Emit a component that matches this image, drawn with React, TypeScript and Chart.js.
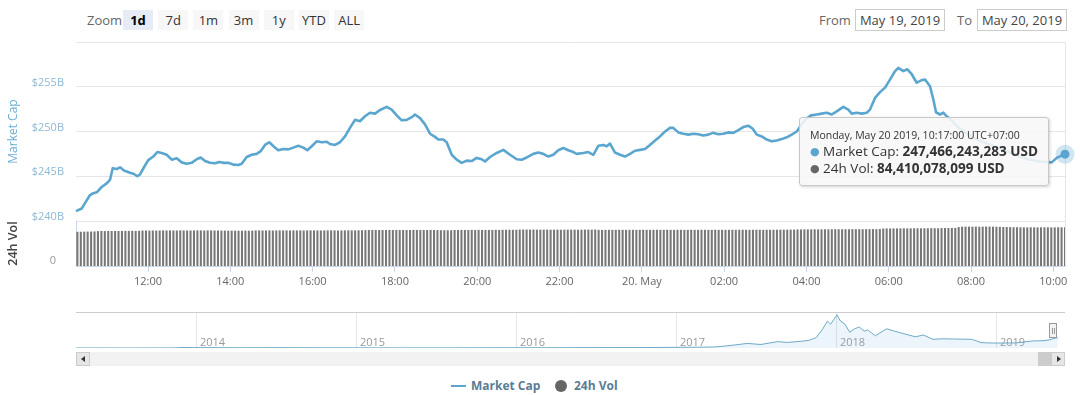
import React, { useEffect, useRef } from "react";
import { Chart, registerables } from "chart.js";
Chart.register(...registerables);

// ---------- data ----------
// Market cap (billions USD), time in hours since May 19 2019 00:00 (UTC+07)
const capHours = [
  10.25, 10.389, 10.469, 10.59, 10.67, 10.753, 10.875, 10.996, 11.076, 11.142, 11.239, 11.319, 11.416, 11.562, 11.659, 11.74, 11.805, 11.927,
  12.007, 12.128, 12.226, 12.333, 12.454, 12.576, 12.697, 12.819, 12.94, 13.062, 13.183, 13.28, 13.385, 13.506, 13.628, 13.732, 13.83, 13.951,
  14.073, 14.194, 14.277, 14.398, 14.52, 14.641, 14.738, 14.843, 14.947, 15.062, 15.166, 15.288, 15.409, 15.531, 15.652, 15.774, 15.871, 15.978,
  16.099, 16.221, 16.342, 16.422, 16.544, 16.665, 16.787, 16.908, 17.03, 17.151, 17.273, 17.395, 17.516, 17.638, 17.8, 17.922,
  18.043, 18.165, 18.286, 18.408, 18.488, 18.61, 18.731, 18.853, 18.974, 19.054, 19.176, 19.258, 19.38, 19.501, 19.623, 19.744, 19.866, 19.987,
  20.109, 20.189, 20.311, 20.474, 20.634, 20.797, 20.96, 21.081, 21.203, 21.363, 21.484, 21.606, 21.728, 21.849, 21.97,
  22.092, 22.214, 22.335, 22.418, 22.578, 22.7, 22.821, 22.943, 23.064, 23.147, 23.227, 23.348, 23.47, 23.591, 23.713, 23.834, 23.956,
  24.077, 24.199, 24.321, 24.442, 24.564, 24.685, 24.765, 24.887, 25.008, 25.13, 25.251, 25.373, 25.494, 25.616, 25.723, 25.859, 25.98,
  26.102, 26.223, 26.345, 26.466, 26.588, 26.695, 26.792, 26.914, 27.035, 27.157, 27.278, 27.4, 27.521, 27.643, 27.764, 27.966,
  28.111, 28.25, 28.372, 28.493, 28.615, 28.736, 28.897, 29.018, 29.101, 29.222, 29.344, 29.465, 29.545, 29.667, 29.788, 29.91,
  30.031, 30.153, 30.233, 30.354, 30.452, 30.559, 30.68, 30.802, 30.882, 31.003, 31.083, 31.149, 31.246, 31.326, 31.409, 31.538, 31.684, 31.854,
  32.024, 32.218, 32.413, 32.607, 32.802, 32.996, 33.19, 33.385, 33.531, 33.676, 33.822, 33.961, 34.082, 34.2833,
];
const capValues = [
  241.1, 241.4, 242.0, 242.9, 243.1, 243.2, 243.8, 244.2, 244.6, 245.9, 245.8, 246.0, 245.65, 245.4, 245.25, 245.0, 245.2, 246.2,
  246.8, 247.2, 247.7, 247.6, 247.4, 246.85, 247.0, 246.55, 246.4, 246.5, 246.9, 247.1, 246.7, 246.5, 246.45, 246.6, 246.5, 246.5,
  246.3, 246.25, 246.4, 247.15, 247.4, 247.5, 247.8, 248.5, 248.8, 248.3, 247.9, 248.05, 248.0, 248.2, 248.4, 248.2, 247.9, 248.35,
  248.9, 248.8, 248.85, 248.6, 248.5, 248.8, 249.45, 250.4, 251.3, 251.15, 251.7, 252.1, 252.0, 252.4, 252.75, 252.45,
  251.8, 251.25, 251.3, 251.6, 251.9, 251.5, 250.8, 249.75, 249.4, 249.1, 249.1, 248.8, 247.4, 246.85, 246.5, 246.75, 246.7, 247.05,
  246.9, 246.65, 247.15, 247.6, 247.95, 247.4, 246.9, 246.85, 247.1, 247.5, 247.65, 247.5, 247.2, 247.4, 247.9,
  248.15, 247.9, 247.7, 247.5, 247.6, 247.7, 247.4, 248.4, 248.5, 248.35, 248.65, 247.65, 247.4, 247.2, 247.5, 247.85, 247.95,
  248.05, 248.5, 249.0, 249.45, 250.0, 250.4, 250.4, 249.9, 249.75, 249.65, 249.75, 249.7, 249.55, 249.65, 249.85, 249.7, 249.75,
  249.9, 249.85, 250.15, 250.5, 250.65, 250.3, 249.65, 249.45, 249.1, 248.9, 249.0, 249.15, 249.35, 249.65, 250.0, 251.3,
  251.8, 251.9, 252.0, 252.1, 251.9, 252.25, 252.75, 252.45, 252.0, 252.1, 252.0, 252.1, 252.45, 253.75, 254.4, 254.9,
  255.8, 256.75, 257.1, 256.75, 256.95, 256.4, 255.45, 255.75, 255.8, 255.05, 253.6, 252.15, 251.9, 252.1, 251.7, 251.2, 250.5, 249.9,
  249.4, 249.0, 248.6, 248.3, 247.9, 247.6, 247.2, 246.9, 246.75, 246.65, 246.6, 246.55, 247.05, 247.466243283,
];

// 24h volume (billions USD), one bar every 5 minutes from 10:17
const volStartHour = 10 + 17 / 60;
const volStepHours = 5 / 60;
const volValues = [
  74.5, 74.6, 74.8, 74.9, 75.0, 75.3, 76.0, 76.2, 76.1, 76.3, 76.2, 76.4,
  76.3, 76.4, 76.5, 76.4, 76.6, 76.5, 76.7, 77.2, 77.3, 77.2, 77.4, 77.3,
  77.3, 77.5, 77.4, 77.6, 77.5, 77.4, 77.6, 77.5, 77.3, 77.4, 77.5, 77.6,
  77.5, 77.4, 77.6, 77.5, 77.3, 77.4, 77.2, 77.0, 76.9, 77.0, 76.8, 76.9,
  76.9, 77.0, 76.8, 77.1, 77.5, 77.6, 77.4, 77.5, 77.6, 77.4, 77.5, 77.6,
  77.5, 77.6, 77.4, 77.7, 77.5, 77.6, 77.4, 77.5, 77.7, 77.6, 77.5, 77.4,
  77.6, 77.5, 77.7, 77.6, 77.4, 77.5, 77.6, 77.8, 77.7, 77.6, 77.8, 77.9,
  78.2, 78.4, 78.3, 78.5, 78.4, 78.3, 78.5, 78.6, 78.4, 78.5, 78.3, 78.4,
  78.5, 78.4, 78.6, 78.5, 78.3, 78.4, 78.5, 78.6, 78.4, 78.2, 78.0, 77.9,
  77.8, 77.9, 78.4, 78.5, 78.6, 78.5, 78.4, 78.6, 78.5, 78.7, 78.6, 78.5,
  78.6, 78.5, 78.7, 78.6, 78.8, 78.9, 79.0, 78.8, 78.9, 79.3, 79.5, 79.4,
  79.3, 79.4, 79.2, 79.1, 79.3, 79.2, 79.0, 79.1, 79.2, 79.0, 79.1, 79.2,
  79.1, 79.2, 79.0, 79.1, 79.3, 79.2, 79.1, 79.4, 78.8, 78.6, 78.7, 78.8,
  78.7, 78.8, 78.9, 78.8, 78.7, 78.9, 78.8, 78.7, 78.8, 78.9, 78.8, 78.7,
  78.8, 78.9, 78.7, 78.8, 78.9, 78.8, 78.7, 78.9, 78.8, 78.7, 78.8, 78.9,
  78.8, 78.7, 78.9, 78.8, 78.7, 78.8, 78.9, 78.8, 78.9, 78.7, 78.8, 78.9,
  78.8, 78.9, 79.0, 78.9, 78.8, 78.9, 79.0, 78.9, 78.8, 79.0, 78.9, 79.0,
  79.1, 79.0, 79.2, 79.1, 79.3, 79.2, 79.6, 79.7, 79.8, 79.7, 79.8, 79.9,
  79.8, 79.9, 80.0, 79.9, 80.0, 80.1, 80.0, 79.9, 80.1, 80.0, 80.2, 80.1,
  80.2, 80.1, 80.3, 80.2, 80.4, 80.3, 80.5, 81.6, 81.8, 81.7, 81.9, 81.8,
  82.0, 82.1, 81.9, 82.0, 82.2, 82.1, 82.0, 82.2, 82.1, 82.3, 82.2, 82.1,
  82.6, 82.8, 82.7, 83.0, 82.9, 84.8, 85.6, 85.8, 85.7, 85.6, 85.8, 85.5,
  85.7, 85.9, 85.8, 85.6, 85.5, 85.3, 85.0, 84.9, 84.6, 84.5, 84.4, 84.3,
  84.2, 84.1, 84.3, 84.2, 84.1, 84.2, 84.3, 84.2, 84.1, 84.2, 84.3, 84.3,
  84.410078099,
];

const xMin = 10.25;
const xMax = 34.2833;
const xTickHours = [12, 14, 16, 18, 20, 22, 24, 26, 28, 30, 32, 34];
const xTickLabels = ["12:00", "14:00", "16:00", "18:00", "20:00", "22:00", "20. May", "02:00", "04:00", "06:00", "08:00", "10:00"];
const capTicks = [240, 245, 250, 255, 260];
const capTickLabels = ["$240B", "$245B", "$250B", "$255B", ""];
const volTicks = [0];
const volTickLabels = ["0"];

// Navigator: whole-history market cap (billions USD) by decimal year
const navYears = [
  2013.244, 2013.4, 2013.55, 2013.7, 2013.85, 2013.92, 2013.97, 2014.1, 2014.25, 2014.45, 2014.6, 2014.8,
  2015.0, 2015.1, 2015.4, 2015.6, 2015.85, 2016.0, 2016.2, 2016.45, 2016.6, 2016.8, 2017.0, 2017.15, 2017.25,
  2017.35, 2017.44, 2017.525, 2017.63, 2017.69, 2017.78, 2017.825, 2017.87, 2017.91, 2017.94, 2017.96, 2018.0,
  2018.02, 2018.05, 2018.08, 2018.11, 2018.14, 2018.17, 2018.19, 2018.24, 2018.31, 2018.36, 2018.425, 2018.49,
  2018.54, 2018.6, 2018.66, 2018.73, 2018.84, 2018.87, 2018.9, 2018.97, 2019.05, 2019.12, 2019.22, 2019.3,
  2019.325, 2019.37, 2019.38,
];
const navValues = [
  1.5, 1.3, 1.1, 1.5, 3, 13, 10, 9, 6, 8, 7.5, 5,
  4.5, 3.5, 3.6, 3.7, 5.5, 6.5, 6.5, 10, 10.5, 11, 17, 20, 28,
  71, 114, 88, 160, 139, 170, 192, 260, 470, 672, 595, 830,
  680, 595, 392, 481, 524, 420, 455, 306, 481, 420, 349, 281,
  324, 218, 230, 225, 218, 180, 134, 124, 125, 128, 175, 185,
  202, 255, 247,
];
const navMin = 2013.244;
const navMax = 2019.425;
const navYearTicks = [2014, 2015, 2016, 2017, 2018, 2019];

const zoomButtons = ["1d", "7d", "1m", "3m", "1y", "YTD", "ALL"];
const selectedZoom = "1d";
const fromDate = "May 19, 2019";
const toDate = "May 20, 2019";
const tooltipTitle = "Monday, May 20 2019, 10:17:00 UTC+07:00";
const capLabel = "Market Cap";
const volLabel = "24h Vol";

const FONT = '"Open Sans", "DejaVu Sans", sans-serif';
const CAP_COLOR = "#5ba6cf";
const VOL_COLOR = "#777777";

const fmtUSD = (b: number) => Math.round(b * 1e9).toLocaleString("en-US") + " USD";

export default function App() {
  const mainRef = useRef<HTMLCanvasElement>(null);
  const navRef = useRef<HTMLCanvasElement>(null);
  const tipRef = useRef<HTMLDivElement>(null);

  useEffect(() => {
    document.body.style.margin = "0";
    const capData = capHours.map((h, i) => ({ x: h, y: capValues[i] }));
    const volData = volValues.map((v, i) => ({ x: volStartHour + i * volStepHours, y: v }));
    const lastCap = capData.length - 1;
    const lastVol = volData.length - 1;

    const frame = {
      id: "frame",
      beforeDatasetsDraw(chart: any) {
        const { ctx, chartArea: a } = chart;
        ctx.save();
        ctx.strokeStyle = "#e6e6e6";
        ctx.lineWidth = 1;
        ctx.beginPath();
        const xr = Math.round(a.right) + 0.5;
        ctx.moveTo(xr, a.top);
        ctx.lineTo(xr, a.bottom);
        ctx.stroke();
        ctx.restore();
      },
    };

    const external = (context: any) => {
      const el = tipRef.current;
      if (!el) return;
      const t = context.tooltip;
      const chart = context.chart;
      if (!t.dataPoints || t.dataPoints.length === 0) {
        el.style.display = "none";
        return;
      }
      const cap = t.dataPoints.find((d: any) => d.datasetIndex === 0);
      const vol = t.dataPoints.find((d: any) => d.datasetIndex === 1);
      const pt = chart.getDatasetMeta(0).data[lastCap];
      const row = (color: string, label: string, val: number) =>
        `<div style="font-size:13.5px;line-height:16px;color:#333;white-space:nowrap"><span style="color:${color};font-size:11px;position:relative;top:-1px">\u25CF</span> ${label}: <b>${fmtUSD(val)}</b></div>`;
      el.innerHTML =
        `<div style="font-size:10.5px;line-height:16px;color:#333;white-space:nowrap">${tooltipTitle}</div>` +
        (cap ? row(CAP_COLOR, capLabel, cap.parsed.y) : "") +
        (vol ? row("#666", volLabel, vol.parsed.y) : "");
      el.style.display = "block";
      el.style.left = chart.canvas.offsetLeft + pt.x - 266 + "px";
      el.style.top = chart.canvas.offsetTop + pt.y - 37 + "px";
    };

    const main = new Chart(mainRef.current!, {
      type: "line",
      data: {
        datasets: [
          {
            type: "line",
            label: capLabel,
            data: capData,
            yAxisID: "y",
            borderColor: CAP_COLOR,
            borderWidth: 2.6,
            borderJoinStyle: "round",
            pointRadius: 0,
            pointHoverRadius: 4.5,
            pointHoverBackgroundColor: CAP_COLOR,
            pointHoverBorderColor: "rgba(91,166,207,0.28)",
            pointHoverBorderWidth: 10,
            tension: 0,
            clip: false,
          } as any,
          {
            type: "bar",
            label: volLabel,
            data: volData,
            yAxisID: "yVol",
            backgroundColor: VOL_COLOR,
            hoverBackgroundColor: VOL_COLOR,
            barPercentage: 0.6,
            categoryPercentage: 1,
            borderWidth: 0,
          } as any,
        ],
      },
      options: {
        responsive: false,
        animation: false,
        events: [],
        layout: { padding: { top: 42, right: 15, bottom: 4, left: 0 } },
        plugins: {
          legend: { display: false },
          tooltip: { enabled: false, mode: "index", intersect: false, external },
        },
        scales: {
          x: {
            type: "linear",
            offset: false,
            min: xMin,
            max: xMax,
            afterFit: (a: any) => { a.height = 30; },
            afterBuildTicks: (a: any) => { a.ticks = xTickHours.map((v) => ({ value: v })); },
            grid: { display: true, drawOnChartArea: false, drawTicks: true, tickLength: 6, color: "#ccd6eb", offset: false },
            border: { display: true, color: "#ccd6eb" },
            ticks: {
              autoSkip: false,
              maxRotation: 0,
              padding: 3,
              color: "#666",
              font: { family: FONT, size: 11 },
              callback: (v: any) => xTickLabels[xTickHours.indexOf(v)] ?? "",
            },
          },
          y: {
            type: "linear",
            position: "left",
            stack: "panes",
            stackWeight: 179,
            weight: 2,
            min: 240,
            max: 260,
            afterFit: (a: any) => { a.width = 76; },
            afterBuildTicks: (a: any) => { a.ticks = capTicks.map((v) => ({ value: v })); },
            grid: { color: "#e6e6e6", drawTicks: false },
            border: { display: false },
            ticks: {
              padding: 12,
              labelOffset: -4,
              color: "#8fb8d3",
              font: { family: FONT, size: 11 },
              callback: (v: any) => capTickLabels[capTicks.indexOf(v)] ?? "",
            },
            title: { display: true, text: capLabel, color: "#6aaed6", font: { family: FONT, size: 12 }, padding: { top: 6, bottom: 0 } },
          },
          yVol: {
            type: "linear",
            position: "left",
            stack: "panes",
            stackWeight: 45,
            weight: 1,
            min: 0,
            max: 98,
            afterFit: (a: any) => { a.width = 76; },
            afterBuildTicks: (a: any) => { a.ticks = volTicks.map((v) => ({ value: v })); },
            grid: { display: false },
            border: { display: true, color: "#ccd6eb" },
            ticks: {
              padding: 12,
              labelOffset: -5,
              color: "#999",
              font: { family: FONT, size: 11 },
              callback: (v: any) => volTickLabels[volTicks.indexOf(v)] ?? "",
            },
            title: { display: true, text: volLabel, color: "#444", font: { family: FONT, size: 12.5, weight: "600" }, padding: { top: 6, bottom: 0 } },
          },
        } as any,
      },
      plugins: [frame],
    });

    main.setActiveElements([{ datasetIndex: 0, index: lastCap }]);
    main.tooltip!.setActiveElements(
      [
        { datasetIndex: 0, index: lastCap },
        { datasetIndex: 1, index: lastVol },
      ],
      { x: 0, y: 0 }
    );
    main.update();

    const topLine = {
      id: "topLine",
      beforeDatasetsDraw(chart: any) {
        const { ctx, chartArea: a } = chart;
        ctx.save();
        ctx.strokeStyle = "#cccccc";
        ctx.lineWidth = 1;
        ctx.beginPath();
        const yt = Math.round(a.top) + 0.5;
        ctx.moveTo(a.left, yt);
        ctx.lineTo(a.right, yt);
        ctx.stroke();
        ctx.restore();
      },
    };

    const navData = navYears.map((y, i) => ({ x: y, y: navValues[i] }));
    const nav = new Chart(navRef.current!, {
      type: "line",
      data: {
        datasets: [
          {
            data: navData,
            borderColor: "#6ea9c7",
            borderWidth: 1,
            pointRadius: 0,
            fill: "origin",
            backgroundColor: "rgba(124,181,236,0.14)",
            tension: 0,
          } as any,
        ],
      },
      options: {
        responsive: false,
        animation: false,
        events: [],
        layout: { padding: { top: 12, bottom: 12, left: 76, right: 15 } },
        plugins: { legend: { display: false }, tooltip: { enabled: false } },
        scales: {
          x: {
            type: "linear",
            min: navMin,
            max: navMax,
            afterFit: (a: any) => { a.height = 0; },
            afterBuildTicks: (a: any) => { a.ticks = navYearTicks.map((v) => ({ value: v })); },
            grid: { color: "#e6e6e6", drawTicks: false },
            border: { display: false },
            ticks: {
              mirror: true,
              align: "start",
              labelOffset: 3,
              padding: -1,
              autoSkip: false,
              maxRotation: 0,
              color: "#999",
              font: { family: FONT, size: 11 },
              callback: (v: any) => String(v),
            },
          },
          y: { display: false, min: 0, max: 900 },
        } as any,
      },
      plugins: [topLine],
    });

    return () => {
      main.destroy();
      nav.destroy();
    };
  }, []);

  const abs = (s: React.CSSProperties): React.CSSProperties => ({ position: "absolute", ...s });

  return (
    <div style={{ position: "relative", width: 1080, height: 395, overflow: "hidden", background: "#fff", fontFamily: FONT }}>
      {/* Range selector */}
      <div style={abs({ left: 87, top: 10, height: 20, lineHeight: "20px", fontSize: 13, color: "#666" })}>Zoom</div>
      {zoomButtons.map((b, i) => (
        <div
          key={b}
          style={abs({
            left: 123 + i * 35.2,
            top: 10,
            width: 30,
            height: 20,
            lineHeight: "20px",
            textAlign: "center",
            fontSize: 13,
            background: b === selectedZoom ? "#e6ebf5" : "#f7f7f7",
            color: b === selectedZoom ? "#000" : "#333",
            fontWeight: b === selectedZoom ? 700 : 400,
          })}
        >
          {b}
        </div>
      ))}
      <div style={abs({ left: 819, top: 10, height: 20, lineHeight: "20px", fontSize: 13, color: "#666" })}>From</div>
      <div style={abs({ left: 855, top: 9, width: 90, height: 22, lineHeight: "20px", fontSize: 13, color: "#444", border: "1px solid #cccccc", boxSizing: "border-box", textAlign: "center" })}>{fromDate}</div>
      <div style={abs({ left: 957, top: 10, height: 20, lineHeight: "20px", fontSize: 13, color: "#666" })}>To</div>
      <div style={abs({ left: 977, top: 9, width: 90, height: 22, lineHeight: "20px", fontSize: 13, color: "#444", border: "1px solid #cccccc", boxSizing: "border-box", textAlign: "center" })}>{toDate}</div>

      <canvas ref={mainRef} width={1080} height={300} style={abs({ left: 0, top: 0, width: 1080, height: 300 })} />
      <canvas ref={navRef} width={1080} height={60} style={abs({ left: 0, top: 300, width: 1080, height: 60 })} />

      {/* navigator handle */}
      <div style={abs({ left: 1049, top: 323, width: 8, height: 15, background: "#f2f2f2", border: "1px solid #999", boxSizing: "border-box" })}>
        <div style={abs({ left: 2, top: 4, width: 1, height: 6, background: "#999" })} />
        <div style={abs({ left: 4, top: 4, width: 1, height: 6, background: "#999" })} />
      </div>

      {/* scrollbar */}
      <div style={abs({ left: 76, top: 352, width: 989, height: 14, background: "#f2f2f2" })} />
      <div style={abs({ left: 76, top: 352, width: 14, height: 14, background: "#e6e6e6", border: "1px solid #cccccc", boxSizing: "border-box" })}>
        <div style={abs({ left: 4, top: 3, width: 0, height: 0, borderTop: "3px solid transparent", borderBottom: "3px solid transparent", borderRight: "4px solid #333" })} />
      </div>
      <div style={abs({ left: 1038, top: 352, width: 13, height: 14, background: "#cccccc" })} />
      <div style={abs({ left: 1051, top: 352, width: 14, height: 14, background: "#e6e6e6", border: "1px solid #cccccc", boxSizing: "border-box" })}>
        <div style={abs({ left: 5, top: 3, width: 0, height: 0, borderTop: "3px solid transparent", borderBottom: "3px solid transparent", borderLeft: "4px solid #333" })} />
      </div>

      {/* legend */}
      <div style={abs({ left: 451, top: 385, width: 15, height: 2, background: CAP_COLOR })} />
      <div style={abs({ left: 471, top: 377, lineHeight: "18px", fontSize: 12, fontWeight: 700, color: "#5b7c95" })}>{capLabel}</div>
      <div style={abs({ left: 555, top: 380, width: 12, height: 12, borderRadius: "50%", background: "#666" })} />
      <div style={abs({ left: 574, top: 377, lineHeight: "18px", fontSize: 12, fontWeight: 700, color: "#5b7c95" })}>{volLabel}</div>

      {/* tooltip (filled by Chart.js external tooltip handler) */}
      <div
        ref={tipRef}
        style={abs({
          display: "none",
          width: 250,
          height: 69,
          padding: "9px 10px",
          boxSizing: "border-box",
          background: "rgba(247,247,247,0.88)",
          border: "1px solid #c8c8c8",
          borderRadius: 3,
          boxShadow: "1px 1px 3px rgba(0,0,0,0.18)",
          pointerEvents: "none",
          fontFamily: FONT,
        })}
      />
    </div>
  );
}
